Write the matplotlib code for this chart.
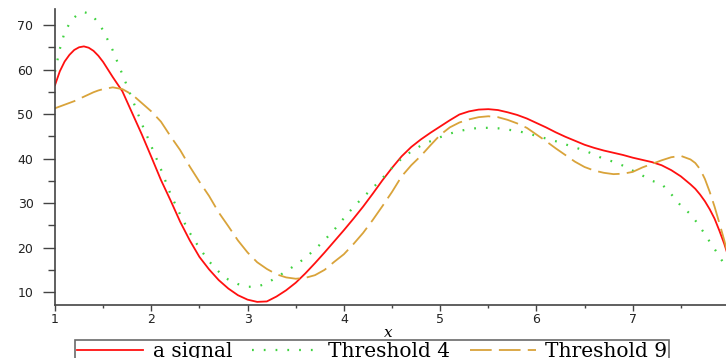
import matplotlib
matplotlib.use("Agg")
import matplotlib.pyplot as plt
from matplotlib.ticker import MultipleLocator

# values (finer steps where the curves bend sharply)
x = [1.0, 1.05, 1.1, 1.15, 1.2, 1.25, 1.3, 1.35, 1.4, 1.45, 1.5,
     1.6, 1.7, 1.8, 1.9, 2.0, 2.1, 2.2, 2.3, 2.4, 2.5, 2.6, 2.7, 2.8, 2.9,
     3.0, 3.1, 3.2, 3.3, 3.4, 3.5, 3.6, 3.7, 3.8, 3.9, 4.0, 4.1, 4.2, 4.3,
     4.4, 4.5, 4.6, 4.7, 4.8, 4.9, 5.0, 5.1, 5.2, 5.3, 5.4, 5.5, 5.6, 5.7,
     5.8, 5.9, 6.0, 6.1, 6.2, 6.3, 6.4, 6.5, 6.6, 6.7, 6.8, 6.9, 7.0, 7.1,
     7.2, 7.3, 7.4, 7.5, 7.6, 7.65, 7.7, 7.75, 7.8, 7.85, 7.9, 7.95, 8.0]

signal = [56.5, 59.6, 61.8, 63.3, 64.4, 65.0, 65.2, 64.9, 64.2, 63.1, 61.7,
          58.3, 55.1, 50.3, 45.5, 40.4, 35.2, 30.6, 25.8, 21.6, 17.9, 15.1,
          12.7, 10.8, 9.3, 8.3, 7.8, 7.9, 9.0, 10.4, 12.1, 14.2, 16.5, 18.9,
          21.4, 23.9, 26.5, 29.2, 32.1, 35.1, 37.9, 40.5, 42.6, 44.3, 45.8,
          47.2, 48.6, 49.9, 50.6, 51.0, 51.1, 50.9, 50.4, 49.8, 49.0, 48.0,
          47.0, 45.9, 44.9, 44.0, 43.1, 42.4, 41.8, 41.3, 40.8, 40.2, 39.7,
          39.2, 38.5, 37.4, 36.0, 34.2, 33.2, 31.9, 30.4, 28.6, 26.5, 23.8,
          20.9, 17.5]

threshold4 = [59.5, 64.6, 68.4, 70.3, 71.7, 72.6, 72.9, 72.6, 71.8, 70.5,
              68.8, 64.3, 58.9, 53.5, 47.9, 42.8, 37.6, 32.0, 27.4, 23.3,
              19.9, 16.9, 14.6, 12.8, 11.8, 11.2, 11.2, 12.0, 13.3, 14.7,
              16.1, 17.7, 19.6, 21.7, 24.0, 26.6, 29.1, 31.3, 33.4, 35.6,
              37.9, 40.0, 41.6, 42.9, 43.9, 44.8, 45.6, 46.2, 46.6, 46.9,
              46.9, 46.8, 46.5, 46.2, 45.7, 45.1, 44.5, 43.9, 43.2, 42.5,
              41.8, 40.9, 39.9, 39.3, 38.4, 37.3, 36.2, 35.0, 34.3, 32.0,
              29.4, 27.5, 26.1, 24.6, 23.0, 21.3, 19.7, 18.0, 16.3, 14.5]

threshold9 = [51.3, 51.7, 52.1, 52.5, 52.9, 53.4, 53.9, 54.4, 54.9, 55.3,
              55.6, 56.0, 55.6, 54.4, 52.5, 50.6, 48.3, 45.0, 41.9, 38.2,
              34.8, 31.6, 27.9, 24.8, 21.6, 18.9, 16.7, 15.2, 14.0, 13.3,
              13.0, 13.2, 13.8, 15.0, 16.8, 18.5, 20.8, 23.3, 26.2, 29.3,
              32.5, 36.0, 38.5, 40.6, 43.0, 45.3, 47.0, 48.1, 48.8, 49.3,
              49.5, 49.3, 48.7, 47.9, 46.9, 45.4, 43.9, 42.3, 40.8, 39.3,
              38.1, 37.3, 36.8, 36.5, 36.6, 37.0, 38.0, 38.8, 39.6, 40.3,
              40.6, 39.8, 39.0, 37.6, 35.4, 32.5, 29.2, 25.5, 21.7, 17.5]

labels = ["a signal", "Threshold 4", "Threshold 9"]
yticks = [10, 20, 30, 40, 50, 60, 70]
xticks = [1, 2, 3, 4, 5, 6, 7, 8]

fig = plt.figure(figsize=(7.26, 3.58), dpi=100)
ax = fig.add_axes([55 / 726, 53 / 358, 674 / 726, 296 / 358])

ax.plot(x, signal, color="#ff1010", lw=1.3, label=labels[0])
ax.plot(x, threshold4, color="#3fd23f", lw=1.6, linestyle=(0, (0.8, 4.5)),
        label=labels[1])
ax.plot(x, threshold9, color="#d9a33a", lw=1.3, linestyle=(0, (12, 4)),
        label=labels[2])

ax.set_xlim(1, 8)
ax.set_ylim(7.1, 73.6)
ax.set_xticks(xticks)
ax.set_yticks(yticks)
ax.xaxis.set_minor_locator(MultipleLocator(0.5))
ax.yaxis.set_minor_locator(MultipleLocator(5))

for side in ["top", "right"]:
    ax.spines[side].set_visible(False)
for side in ["left", "bottom"]:
    ax.spines[side].set_color("#444444")
    ax.spines[side].set_linewidth(1.2)

ax.tick_params(axis="y", which="major", length=8.5, width=1, color="#444444",
               pad=7, labelsize=9, labelcolor="#222222")
ax.tick_params(axis="y", which="minor", length=5, width=1, color="#444444")
ax.tick_params(axis="x", which="major", length=4, width=1, color="#444444",
               pad=2, labelsize=9, labelcolor="#222222")
ax.tick_params(axis="x", which="minor", length=2.2, width=1, color="#444444")

fig.text(388 / 726, 1 - 333 / 358, "x", fontsize=11, style="italic",
         family="DejaVu Serif", ha="center", va="center")

leg = fig.legend(loc="upper left", bbox_to_anchor=(75 / 726, 1 - 340 / 358),
                 ncol=3, frameon=True, fancybox=False, borderaxespad=0,
                 prop={"family": "DejaVu Serif", "size": 14.5},
                 handlelength=3.3, handletextpad=0.45, columnspacing=1.0,
                 borderpad=0.1)
leg.get_frame().set_edgecolor("#444444")
leg.get_frame().set_linewidth(1.2)

fig.savefig("out.png", dpi=100)
